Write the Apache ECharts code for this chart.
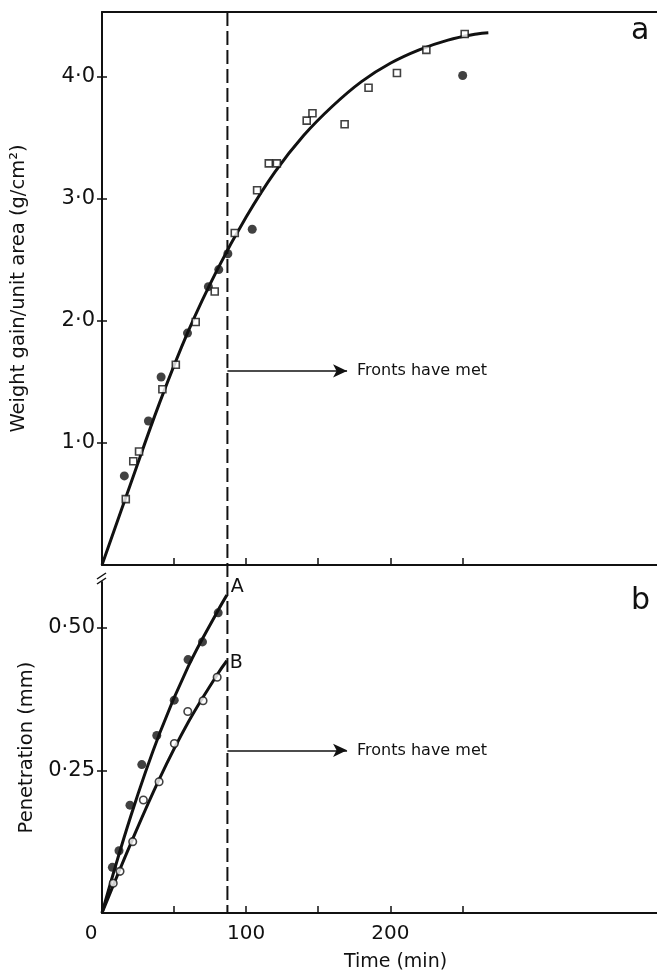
<!DOCTYPE html>
<html>
<head>
<meta charset="utf-8">
<script src="https://cdn.jsdelivr.net/npm/echarts@6/dist/echarts.min.js"></script>
<style>
  html, body { margin: 0; padding: 0; background: #ffffff; }
  #chart { width: 657px; height: 973px; }
</style>
</head>
<body>
<div id="chart"></div>
<script>
// ---- Panel a: weight gain per unit area (g/cm^2) against time (min) ----
const gainFitTime   = [0, 20, 40, 60, 80, 100, 120, 140, 160, 180, 200, 220, 240, 260, 268];
const gainFitValue  = [0, 0.67, 1.33, 1.92, 2.42, 2.85, 3.22, 3.52, 3.76, 3.96, 4.11, 4.22, 4.30, 4.35, 4.36];
const gainDotTime   = [15.5, 32.2, 41, 59.3, 73.8, 81, 87.3, 104.2, 250.2];
const gainDotValue  = [0.73, 1.18, 1.54, 1.90, 2.28, 2.42, 2.55, 2.75, 4.01];
const gainSquareTime  = [16.5, 21.7, 25.7, 41.9, 51.2, 65, 78.2, 92.1, 107.6, 115.7, 121.3, 142, 146, 168.3, 184.9, 204.6, 225, 251.6];
const gainSquareValue = [0.54, 0.85, 0.93, 1.44, 1.64, 1.99, 2.24, 2.72, 3.07, 3.29, 3.29, 3.64, 3.70, 3.61, 3.91, 4.03, 4.22, 4.35];

// ---- Panel b: penetration (mm) against time (min) ----
const penATime  = [7.2, 11.8, 19.4, 27.6, 38.0, 50.1, 59.7, 69.7, 80.6];
const penAValue = [0.080, 0.109, 0.189, 0.260, 0.311, 0.373, 0.444, 0.475, 0.526];
const penBTime  = [7.8, 12.5, 21.3, 28.7, 39.6, 50.2, 59.5, 70.1, 79.9];
const penBValue = [0.052, 0.073, 0.125, 0.198, 0.230, 0.297, 0.353, 0.372, 0.413];
const fitATime  = [0, 20, 40, 60, 80, 86.6];
const fitAValue = [0, 0.170, 0.315, 0.433, 0.528, 0.557];
const fitBTime  = [0, 20, 40, 60, 80, 86.6];
const fitBValue = [0, 0.122, 0.236, 0.335, 0.418, 0.442];

// ---- Axes and annotations ----
const timeTicks   = [0, 50, 100, 150, 200, 250];
const timeLabels  = [0, 100, 200];
const gainTicks   = [1, 2, 3, 4];
const penTicks    = [0.25, 0.5];
const penTickText = ['0·25', '0·50'];
const frontsTime  = 87;
const frontsGainLevel = 1.59;
const frontsPenLevel  = 0.285;
const frontsArrowEnd  = 170;
const frontsText = 'Fronts have met';

const INK = '#111111';
const FONT = 'DejaVu Sans';

const zip = (xs, ys) => xs.map((x, i) => [x, ys[i]]);

const chart = echarts.init(document.getElementById('chart'), null, { renderer: 'canvas' });

function timeAxis(grid, position, withLabels) {
  return {
    type: 'value', gridIndex: grid, position: position, min: 0, max: 385,
    axisLine: { show: true, onZero: false, lineStyle: { color: INK, width: 2 } },
    axisTick: position === 'top' ? { show: false } :
      { show: true, inside: true, length: 7, customValues: timeTicks, lineStyle: { color: INK, width: 1.5 } },
    axisLabel: withLabels ? {
      show: true, customValues: timeLabels, margin: 11,
      // the zero sits a little left of the corner
      formatter: v => (v === 0 ? '{zero|0}' : String(v)),
      rich: { zero: { padding: [0, 22, 0, 0], fontFamily: FONT, fontSize: 20, color: INK } },
      fontFamily: FONT, fontSize: 20, color: INK
    } : { show: false },
    splitLine: { show: false }
  };
}

function valueAxis(grid, max, ticks, fmt, inside) {
  return {
    type: 'value', gridIndex: grid, min: 0, max: max, position: 'left',
    axisLine: { show: !inside, onZero: false, lineStyle: { color: INK, width: 2 } },
    axisTick: { show: true, inside: inside, length: 5, customValues: ticks, lineStyle: { color: INK, width: 1.5 } },
    axisLabel: inside ? { show: false } : {
      show: true, customValues: ticks, formatter: fmt, margin: 7,
      fontFamily: FONT, fontSize: 21, color: INK
    },
    splitLine: { show: false }
  };
}

const arrowLine = (level) => ({
  silent: true,
  symbol: ['none', 'arrow'],
  symbolSize: [10, 14],
  lineStyle: { type: 'solid', color: INK, width: 1.5 },
  label: { show: true, position: 'end', formatter: frontsText, distance: 10,
           fontFamily: FONT, fontSize: 16, color: INK },
  data: [[{ coord: [frontsTime, level] }, { coord: [frontsArrowEnd, level] }]]
});

const yAxisTop = valueAxis(0, 4.53, gainTicks, v => v.toFixed(1).replace('.', '·'), false);
yAxisTop.name = 'Weight gain/unit area (g/cm²)';
yAxisTop.nameLocation = 'middle';
yAxisTop.nameGap = 73;
yAxisTop.nameTextStyle = { fontFamily: FONT, fontSize: 19.5, color: INK };

const yAxisBottom = valueAxis(1, 0.58, penTicks, v => penTickText[penTicks.indexOf(v)] || '', false);
yAxisBottom.name = 'Penetration (mm)';
yAxisBottom.nameLocation = 'middle';
yAxisBottom.nameGap = 63;
yAxisBottom.nameTextStyle = { fontFamily: FONT, fontSize: 19.5, color: INK };

const xAxisBottom = timeAxis(1, 'bottom', true);
xAxisBottom.name = 'Time (min)';
xAxisBottom.nameLocation = 'middle';
xAxisBottom.nameGap = 40;
xAxisBottom.nameTextStyle = { fontFamily: FONT, fontSize: 19, color: INK, padding: [0, 0, 0, 32] };

const fitLine = (xi, yi, data) => ({
  type: 'line', xAxisIndex: xi, yAxisIndex: yi, data: data,
  smooth: 0.4, showSymbol: false, symbol: 'none',
  lineStyle: { color: INK, width: 3 }, z: 3
});

const seriesA = fitLine(2, 2, zip(fitATime, fitAValue));
seriesA.endLabel = { show: true, formatter: 'A', offset: [0, -8], distance: 4,
                     fontFamily: FONT, fontSize: 19, color: INK };
seriesA.markLine = arrowLine(frontsPenLevel);

const seriesB = fitLine(2, 2, zip(fitBTime, fitBValue));
seriesB.endLabel = { show: true, formatter: 'B', offset: [0, 2], distance: 3,
                     fontFamily: FONT, fontSize: 19, color: INK };

const seriesGain = fitLine(0, 0, zip(gainFitTime, gainFitValue));
seriesGain.markLine = arrowLine(frontsGainLevel);

chart.setOption({
  animation: false,
  backgroundColor: '#ffffff',
  grid: [
    { left: 102, top: 12, width: 555, height: 553 },
    { left: 102, top: 582, width: 555, height: 332 }
  ],
  xAxis: [
    timeAxis(0, 'bottom', false),
    timeAxis(0, 'top', false),
    xAxisBottom
  ],
  yAxis: [
    yAxisTop,
    valueAxis(0, 4.53, gainTicks, null, true),
    yAxisBottom,
    valueAxis(1, 0.58, penTicks, null, true)
  ],
  series: [
    seriesGain,
    {
      type: 'scatter', xAxisIndex: 0, yAxisIndex: 0, data: zip(gainDotTime, gainDotValue),
      symbol: 'circle', symbolSize: 9, itemStyle: { color: INK }, z: 4
    },
    {
      type: 'scatter', xAxisIndex: 0, yAxisIndex: 0, data: zip(gainSquareTime, gainSquareValue),
      symbol: 'rect', symbolSize: 7, itemStyle: { color: '#ffffff', borderColor: INK, borderWidth: 1.6 }, z: 5
    },
    seriesA,
    seriesB,
    {
      type: 'scatter', xAxisIndex: 2, yAxisIndex: 2, data: zip(penATime, penAValue),
      symbol: 'circle', symbolSize: 9, itemStyle: { color: INK }, z: 4
    },
    {
      type: 'scatter', xAxisIndex: 2, yAxisIndex: 2, data: zip(penBTime, penBValue),
      symbol: 'circle', symbolSize: 7.5, itemStyle: { color: '#ffffff', borderColor: INK, borderWidth: 1.6 }, z: 4
    }
  ]
});

// Dashed "fronts have met" line spanning both panels, plus the axis break marks
const topPt = chart.convertToPixel({ xAxisIndex: 0, yAxisIndex: 0 }, [frontsTime, 4.53]);
const botPt = chart.convertToPixel({ xAxisIndex: 2, yAxisIndex: 2 }, [frontsTime, 0]);
const origin = chart.convertToPixel({ xAxisIndex: 0, yAxisIndex: 0 }, [0, 0]);
const bx = origin[0], by = origin[1];

chart.setOption({
  graphic: [
    { type: 'line', silent: true, z: 2,
      shape: { x1: topPt[0], y1: topPt[1], x2: botPt[0], y2: botPt[1] },
      style: { stroke: INK, lineWidth: 2, lineDash: [14, 5] } },
    { type: 'line', silent: true,
      shape: { x1: bx - 5, y1: by + 14, x2: bx + 4, y2: by + 8 },
      style: { stroke: INK, lineWidth: 1.5 } },
    { type: 'line', silent: true,
      shape: { x1: bx - 5, y1: by + 19, x2: bx + 4, y2: by + 13 },
      style: { stroke: INK, lineWidth: 1.5 } },
    { type: 'text', left: 631, top: 16, silent: true,
      style: { text: 'a', fontFamily: FONT, fontSize: 30, fill: INK } },
    { type: 'text', left: 631, top: 586, silent: true,
      style: { text: 'b', fontFamily: FONT, fontSize: 30, fill: INK } }
  ]
});
</script>
</body>
</html>
